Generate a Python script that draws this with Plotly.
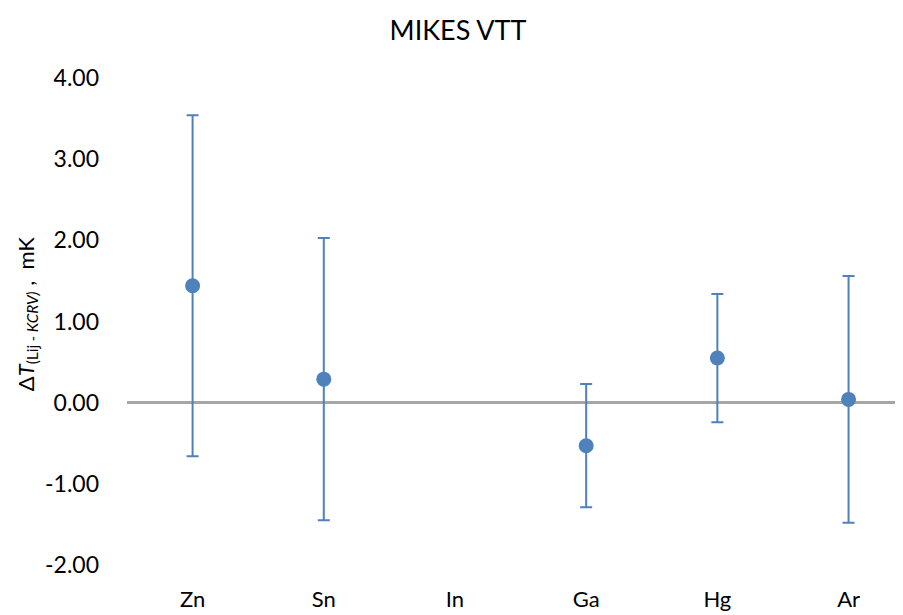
import plotly.graph_objects as go

categories = ["Zn", "Sn", "In", "Ga", "Hg", "Ar"]
values = [1.44, 0.29, None, -0.53, 0.55, 0.04]
uncert = [2.10, 1.74, None, 0.76, 0.79, 1.52]
ytick_vals = [-2, -1, 0, 1, 2, 3, 4]
ytick_text = ["-2.00", "-1.00", "0.00", "1.00", "2.00", "3.00", "4.00"]

FONT = "Lato, Carlito, Calibri, sans-serif"
BLUE = "#4F81BD"

fig = go.Figure()
fig.add_trace(go.Scatter(
    x=categories, y=values, mode="markers",
    marker=dict(color=BLUE, size=15),
    error_y=dict(type="data", array=uncert, visible=True, color=BLUE, thickness=2, width=6),
    showlegend=False,
))

# page body has an 8px margin; figure is sized so the plot lands where the reference has it
W, H = 895, 607
ml, mr, mt, mb = 119, 0, 70, 50

fig.update_layout(
    width=W, height=H,
    margin=dict(l=ml, r=mr, t=mt, b=mb, autoexpand=False),
    paper_bgcolor="white", plot_bgcolor="white",
    font=dict(family=FONT, size=23, color="#000000"),
    title=dict(text="MIKES VTT", x=450 / W, xanchor="center", y=1 - 23 / H, yanchor="middle",
               font=dict(family=FONT, size=27, color="#000000")),
    xaxis=dict(type="category", categoryorder="array", categoryarray=categories,
               range=[-0.5, 5.415], showgrid=False, showline=False, zeroline=False,
               ticks="", ticklabelstandoff=19, tickfont=dict(size=22), automargin=False),
    yaxis=dict(range=[-2, 4], tickvals=ytick_vals, ticktext=ytick_text, showgrid=False,
               showline=False, ticks="", ticklabelstandoff=27,
               zeroline=True, zerolinecolor="#A6A6A6", zerolinewidth=3,
               tickfont=dict(size=23), automargin=False),
    annotations=[dict(
        text="Δ<i>T</i><sub>(Lij<i> - KCRV)</i></sub> ,  mK",
        xref="paper", yref="paper", x=(19 - ml) / (W - ml - mr), y=0.515,
        xanchor="center", yanchor="middle", textangle=-90, showarrow=False,
        font=dict(family=FONT, size=22, color="#000000"),
    )],
)

fig.write_html("out.html")
